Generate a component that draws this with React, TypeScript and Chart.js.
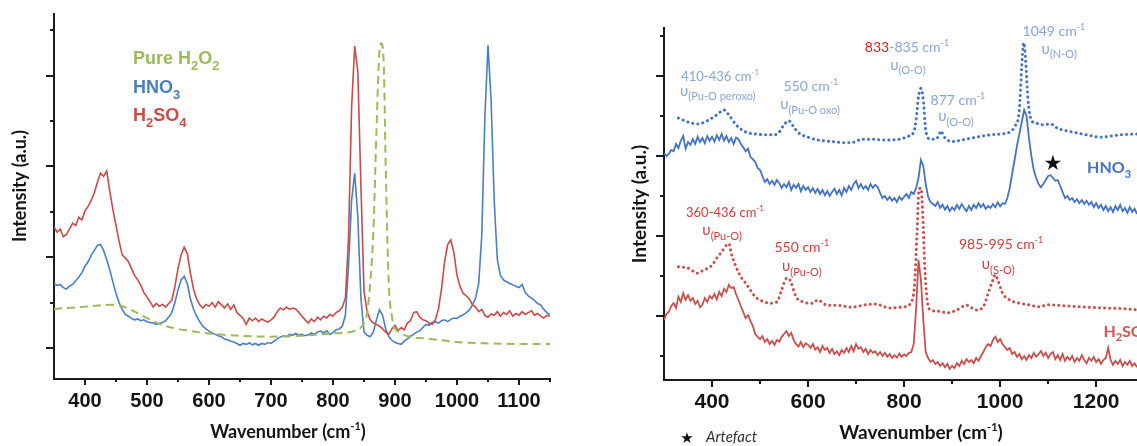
import React, { useEffect, useRef } from 'react';
import { Chart, registerables } from 'chart.js';
Chart.register(...registerables);

// ---------------- Left panel data ----------------
const LEFT_START = 350;
const LEFT_STEP = 5;
// H2SO4 (red), one row = 50 cm-1, starting at 350
const leftH2SO4 = [
  2.67, 2.55, 2.62, 2.45, 2.5, 2.62, 2.75, 2.7, 2.88, 2.82,
  3.02, 3.12, 3.25, 3.42, 3.65, 3.85, 3.78, 3.9, 3.45, 3.05,
  2.7, 2.35, 2.05, 1.98, 1.9, 1.75, 1.6, 1.5, 1.38, 1.22,
  1.12, 1.02, 0.9, 0.98, 0.92, 0.96, 0.9, 0.98, 1.05, 1.35,
  1.75, 2.05, 2.22, 2.08, 1.65, 1.3, 1.08, 0.95, 0.88, 0.96,
  0.92, 1.0, 0.9, 1.02, 0.95, 0.88, 0.97, 0.85, 0.95, 0.78,
  0.72, 0.65, 0.52, 0.66, 0.6, 0.66, 0.58, 0.64, 0.6, 0.57,
  0.62, 0.68, 0.8, 0.88, 0.84, 0.9, 0.85, 0.88, 0.86, 0.78,
  0.7, 0.62, 0.55, 0.64, 0.58, 0.68, 0.62, 0.7, 0.66, 0.74,
  0.7, 0.78, 0.82, 0.9, 1.1, 2.4, 5.3, 6.65, 6.1, 3.6,
  1.25, 0.8, 0.62, 0.55, 0.52, 0.48, 0.42, 0.35, 0.3, 0.42,
  0.5, 0.38, 0.45, 0.4, 0.55, 0.6, 0.78, 0.8, 0.68, 0.62,
  0.6, 0.55, 0.52, 0.62, 0.85, 1.3, 1.9, 2.28, 2.38, 2.1,
  1.6, 1.35, 1.2, 1.15, 1.08, 0.95, 0.9, 0.8, 0.85, 0.72,
  0.68, 0.75, 0.72, 0.8, 0.7, 0.78, 0.74, 0.82, 0.7, 0.76,
  0.72, 0.8, 0.74, 0.78, 0.82, 0.72, 0.76, 0.7, 0.66, 0.72,
  0.7,
];
// HNO3 (blue)
const leftHNO3 = [
  1.42, 1.38, 1.4, 1.33, 1.3, 1.36, 1.4, 1.48, 1.56, 1.66,
  1.8, 1.9, 2.04, 2.15, 2.26, 2.28, 2.15, 1.95, 1.72, 1.45,
  1.2, 1.0, 0.85, 0.74, 0.7, 0.65, 0.62, 0.64, 0.6, 0.62,
  0.58, 0.56, 0.55, 0.52, 0.54, 0.56, 0.6, 0.68, 0.78, 1.0,
  1.28, 1.5, 1.58, 1.42, 1.08, 0.86, 0.7, 0.58, 0.48, 0.42,
  0.37, 0.33, 0.3, 0.27, 0.25, 0.2, 0.18, 0.15, 0.13, 0.1,
  0.06, 0.1, 0.08, 0.11, 0.07, 0.1, 0.06, 0.1, 0.08, 0.12,
  0.1, 0.15, 0.2, 0.24, 0.27, 0.25, 0.3, 0.28, 0.32, 0.28,
  0.3, 0.27, 0.29, 0.33, 0.3, 0.35, 0.37, 0.33, 0.38, 0.3,
  0.34, 0.4, 0.42, 0.48, 0.72, 1.8, 3.25, 3.85, 2.9, 1.1,
  0.35, 0.28, 0.25, 0.35, 0.62, 0.84, 0.72, 0.42, 0.25, 0.17,
  0.12, 0.1, 0.08, 0.15, 0.2, 0.26, 0.3, 0.35, 0.38, 0.45,
  0.52, 0.5, 0.56, 0.58, 0.55, 0.6, 0.62, 0.58, 0.63, 0.66,
  0.65, 0.7, 0.73, 0.78, 0.84, 0.95, 1.1, 1.42, 2.5, 5.1,
  6.67, 5.45, 3.25, 1.95, 1.6, 1.5, 1.46, 1.42, 1.39, 1.36,
  1.33, 1.4, 1.22, 1.15, 1.1, 1.05, 0.98, 0.95, 0.85, 0.78,
  0.73,
];
// Pure H2O2 (green dashed)
const leftH2O2Wavenumber = [350, 400, 440, 460, 480, 500, 520, 550, 600, 650, 700, 750, 800, 840, 850, 855, 860, 865, 870, 875, 878, 882, 885, 890, 895, 900, 950, 1000, 1050, 1100, 1150];
const leftH2O2 = [0.86, 0.91, 0.95, 0.92, 0.8, 0.66, 0.53, 0.42, 0.32, 0.27, 0.25, 0.27, 0.32, 0.4, 0.55, 0.77, 1.42, 2.53, 4.73, 6.56, 6.71, 6.2, 4.0, 1.42, 0.7, 0.42, 0.21, 0.13, 0.1, 0.09, 0.09];
const leftXTicks = [400, 500, 600, 700, 800, 900, 1000, 1100];
const leftXMinor = [450, 550, 650, 750, 850, 950, 1050, 1150];
const leftYMajor = [0, 2, 4, 6];
const leftYMinor = [1, 3, 5, 7];

// ---------------- Right panel data ----------------
const RIGHT_START = 300;
const RIGHT_STEP = 5;
// HNO3 measured (solid blue), rows of 50 cm-1 from 300
const rightHNO3 = [
  5.07, 5.0, 5.05, 5.15, 5.12, 5.3, 5.2, 5.38, 5.5, 5.18,
  5.35, 5.28, 5.42, 5.3, 5.48, 5.35, 5.45, 5.32, 5.5, 5.38,
  5.48, 5.36, 5.52, 5.4, 5.55, 5.38, 5.5, 5.35, 5.45, 5.3,
  5.46, 5.42, 5.3, 5.22, 5.12, 5.18, 4.98, 4.92, 4.85, 4.7,
  4.65, 4.5, 4.35, 4.42, 4.3, 4.38, 4.28, 4.4, 4.32, 4.2,
  4.3, 4.22, 4.35, 4.15, 4.28, 4.2, 4.3, 4.12, 4.25, 4.15,
  4.22, 4.1, 4.2, 4.08, 4.18, 4.05, 4.15, 4.02, 4.12, 4.0,
  4.1, 4.18, 4.05, 4.15, 4.02, 4.2, 4.1, 4.25, 4.15, 4.3,
  4.38, 4.2, 4.3, 4.18, 4.25, 4.15, 4.3, 4.2, 4.28, 4.22,
  4.08, 3.95, 4.0, 3.9, 3.98, 3.88, 3.95, 3.85, 3.98, 3.9,
  3.98, 4.05, 3.95, 4.1, 4.05, 4.2, 4.45, 4.9, 4.75, 4.3,
  3.98, 3.85, 3.8, 3.75, 3.85, 3.7, 3.78, 3.66, 3.75, 3.62,
  3.72, 3.65, 3.78, 3.68, 3.8, 3.7, 3.62, 3.75, 3.65, 3.78,
  3.7, 3.82, 3.72, 3.8, 3.68, 3.75, 3.7, 3.8, 3.72, 3.84,
  3.74, 3.82, 3.8, 3.95, 4.2, 4.55, 4.9, 5.25, 5.55, 5.85,
  6.15, 6.0, 5.45, 5.0, 4.65, 4.45, 4.3, 4.22, 4.3, 4.4,
  4.5, 4.52, 4.45, 4.38, 4.4, 4.25, 4.1, 3.95, 4.0, 3.9,
  3.95, 3.85, 3.92, 3.82, 3.9, 3.8, 3.88, 3.78, 3.85, 3.72,
  3.82, 3.7, 3.78, 3.65, 3.75, 3.62, 3.72, 3.6, 3.75, 3.65,
  3.78, 3.62, 3.7, 3.58, 3.72, 3.6, 3.68, 3.55, 3.7, 3.6,
  3.65,
];
// H2SO4 measured (solid red)
const rightH2SO4 = [
  0.9, 1.05, 1.1, 1.25, 1.32, 1.2, 1.48, 1.35, 1.57, 1.4,
  1.52, 1.38, 1.45, 1.3, 1.38, 1.22, 1.28, 1.45, 1.35, 1.5,
  1.44, 1.55, 1.42, 1.6, 1.5, 1.68, 1.6, 1.78, 1.7, 1.72,
  1.55, 1.4, 1.25, 1.1, 0.95, 1.02, 0.88, 0.75, 0.55, 0.48,
  0.42, 0.5, 0.35, 0.42, 0.3, 0.38, 0.28, 0.4, 0.36, 0.48,
  0.55, 0.62, 0.5, 0.58, 0.4, 0.3, 0.24, 0.35, 0.22, 0.32,
  0.28, 0.2, 0.3, 0.16, 0.22, 0.1, 0.25, 0.15, 0.2, 0.08,
  0.18, 0.05, 0.12, 0.02, 0.15, 0.08, 0.2, 0.1, 0.25, 0.12,
  0.3, 0.18, 0.22, 0.1, 0.18, 0.05, 0.15, 0.08, 0.12, 0.02,
  0.1, 0.0, 0.08, -0.02, 0.05, -0.05, 0.02, -0.04, 0.06, -0.02,
  0.04, 0.0, 0.08, 0.1, 0.3, 1.2, 2.4, 1.9, 0.9, 0.1,
  -0.05, -0.15, -0.1, -0.2, -0.15, -0.25, -0.18, -0.28, -0.2, -0.32,
  -0.25, -0.3, -0.18, -0.25, -0.12, -0.2, -0.08, -0.15, -0.1, -0.18,
  -0.05, -0.12, 0.0, 0.1, 0.22, 0.3, 0.25, 0.4, 0.48, 0.35,
  0.42, 0.3, 0.22, 0.15, 0.2, 0.05, 0.1, -0.02, 0.05, -0.08,
  0.0, -0.1, 0.02, -0.05, 0.08, -0.02, 0.05, 0.12, 0.0, 0.08,
  -0.05, 0.05, 0.1, -0.08, 0.02, -0.1, 0.05, -0.12, -0.02, -0.1,
  0.0, -0.15, -0.05, -0.12, 0.02, -0.1, -0.18, -0.05, -0.12, -0.02,
  -0.15, -0.08, -0.2, -0.1, -0.05, 0.2, -0.1, -0.22, -0.12, -0.2,
  -0.1, -0.25, -0.15, -0.22, -0.12, -0.25, -0.18, -0.28, -0.2, -0.25,
  -0.2,
];
// reference spectra (dotted)
const rightHNO3RefWavenumber = [330, 350, 370, 390, 410, 425, 435, 450, 470, 490, 510, 530, 540, 550, 560, 570, 580, 600, 620, 650, 680, 700, 710, 730, 760, 790, 810, 820, 825, 830, 835, 840, 845, 855, 865, 872, 877, 882, 890, 900, 920, 950, 980, 1000, 1020, 1030, 1040, 1045, 1049, 1053, 1058, 1065, 1075, 1090, 1105, 1120, 1150, 1180, 1210, 1250, 1290];
const rightHNO3Ref = [5.95, 5.85, 5.8, 5.88, 6.03, 6.15, 6.03, 5.78, 5.6, 5.55, 5.53, 5.53, 5.6, 5.78, 5.88, 5.73, 5.58, 5.47, 5.4, 5.36, 5.33, 5.36, 5.42, 5.42, 5.4, 5.42, 5.5, 5.6, 5.9, 6.48, 6.69, 6.4, 5.65, 5.42, 5.42, 5.5, 5.63, 5.5, 5.4, 5.36, 5.4, 5.47, 5.53, 5.55, 5.6, 5.73, 6.15, 7.23, 7.83, 7.4, 6.4, 5.9, 5.82, 5.78, 5.8, 5.69, 5.6, 5.53, 5.47, 5.53, 5.55];
const rightH2SO4RefWavenumber = [330, 350, 370, 380, 400, 410, 420, 430, 435, 440, 450, 460, 470, 480, 490, 500, 520, 535, 545, 555, 560, 565, 575, 590, 610, 620, 640, 660, 690, 720, 740, 770, 800, 815, 822, 827, 831, 835, 839, 843, 848, 855, 870, 890, 910, 930, 950, 965, 975, 985, 990, 995, 1005, 1020, 1040, 1060, 1080, 1100, 1140, 1180, 1220, 1260, 1290];
const rightH2SO4Ref = [2.23, 2.2, 2.07, 2.13, 2.27, 2.45, 2.6, 2.77, 2.81, 2.57, 2.23, 1.98, 1.82, 1.65, 1.48, 1.4, 1.32, 1.35, 1.65, 1.94, 1.94, 1.82, 1.48, 1.35, 1.32, 1.4, 1.27, 1.27, 1.22, 1.28, 1.3, 1.2, 1.23, 1.35, 1.82, 3.07, 4.15, 4.2, 3.48, 2.23, 1.4, 1.15, 1.12, 1.08, 1.15, 1.27, 1.15, 1.23, 1.57, 1.9, 2.03, 1.9, 1.57, 1.4, 1.32, 1.28, 1.23, 1.28, 1.25, 1.22, 1.2, 1.18, 1.15];
const rightXTicks = [400, 600, 800, 1000, 1200];
const rightXMinor = [500, 700, 900, 1100];
const rightYMajor = [1, 3, 5, 7];
const rightYMinor = [0, 2, 4, 6, 8];

// ---------------- styles ----------------
const AXIS = '#1c1c1c';
const FONT_TICK = '"Liberation Sans", Arial, sans-serif';
const FONT_TEXT = 'Lato, "Noto Sans", "DejaVu Sans", sans-serif';
const GREEN = '#9bbb59';
const L_BLUE = '#4a7fc6';
const L_RED = '#cc4a47';
const R_BLUE = '#4472c4';
const R_RED = '#c9504c';
const ANN_BLUE = '#88a5d9';
const ANN_RED = '#d23c3c';
const ANN_RED2 = '#e3201c';

type Seg = { t: string; s: number; c: string; w?: string; i?: boolean; dy?: number; f?: string };
type TextItem = { x: number; y: number; data?: boolean; segs: Seg[]; align?: string; rot?: number };

function segFont(g: Seg) {
  return `${g.i ? 'italic ' : ''}${g.w || 'normal'} ${g.s}px ${g.f || FONT_TEXT}`;
}

function drawRich(ctx: CanvasRenderingContext2D, x: number, y: number, segs: Seg[], align = 'center', rot = 0) {
  ctx.save();
  ctx.translate(x, y);
  if (rot) ctx.rotate(rot);
  ctx.textBaseline = 'alphabetic';
  ctx.textAlign = 'left';
  const ws = segs.map((g) => {
    ctx.font = segFont(g);
    return ctx.measureText(g.t).width;
  });
  const total = ws.reduce((a, b) => a + b, 0);
  let cx = align === 'center' ? -total / 2 : align === 'right' ? -total : 0;
  const base = segs[0].s * 0.36;
  segs.forEach((g, k) => {
    ctx.font = segFont(g);
    ctx.fillStyle = g.c;
    ctx.fillText(g.t, cx, base + (g.dy || 0));
    cx += ws[k];
  });
  ctx.restore();
}

const wn = (num: string, c: string, s: number): Seg[] => [
  { t: num + ' cm', s, c },
  { t: '-1', s: Math.round(s * 0.62), c, dy: -s * 0.45 },
];
const nu = (sub: string, c: string, s: number): Seg[] => [
  { t: 'υ', s: s + 1, c },
  { t: sub, s: Math.round(s * 0.8), c, dy: s * 0.3 },
];
const formula = (parts: [string, boolean][], c: string, s: number, f: string, w = 'bold'): Seg[] =>
  parts.map(([t, sub]) => (sub ? { t, s: Math.round(s * 0.7), c, w, f, dy: s * 0.3 } : { t, s, c, w, f }));

type Deco = {
  xMajor: number[]; xMinor: number[]; yMajor: number[]; yMinor: number[];
  xMajorLen: number; xMinorLen: number; yMajorLen: number; yMinorLen: number;
  texts: TextItem[];
};

function decor(d: Deco) {
  return {
    id: 'decor',
    afterDraw(chart: any) {
      const ctx: CanvasRenderingContext2D = chart.ctx;
      const xs = chart.scales.x;
      const ys = chart.scales.y;
      const area = chart.chartArea;
      ctx.save();
      ctx.strokeStyle = AXIS;
      ctx.lineWidth = 2;
      ctx.beginPath();
      const xt = (vals: number[], len: number) =>
        vals.forEach((v) => {
          const p = Math.round(xs.getPixelForValue(v));
          ctx.moveTo(p, area.bottom);
          ctx.lineTo(p, area.bottom + len);
        });
      const yt = (vals: number[], len: number) =>
        vals.forEach((v) => {
          const p = Math.round(ys.getPixelForValue(v));
          ctx.moveTo(area.left, p);
          ctx.lineTo(area.left - len, p);
        });
      xt(d.xMajor, d.xMajorLen);
      xt(d.xMinor, d.xMinorLen);
      yt(d.yMajor, d.yMajorLen);
      yt(d.yMinor, d.yMinorLen);
      ctx.stroke();
      ctx.restore();
      d.texts.forEach((t) => {
        const px = t.data ? xs.getPixelForValue(t.x) : t.x;
        const py = t.data ? ys.getPixelForValue(t.y) : t.y;
        drawRich(ctx, px, py, t.segs, t.align || 'center', t.rot || 0);
      });
    },
  };
}

function series(xs: number[], ys: number[]) {
  const n = Math.min(xs.length, ys.length);
  const out: { x: number; y: number }[] = [];
  for (let i = 0; i < n; i++) out.push({ x: xs[i], y: ys[i] });
  return out;
}

function makeConfig(p: {
  datasets: any[]; xMin: number; xMax: number; yMin: number; yMax: number; xTicks: number[];
  left: number; right: number; top: number; bottom: number; tickSize: number; deco: Deco;
}) {
  return {
    type: 'line',
    data: { datasets: p.datasets },
    options: {
      responsive: false,
      maintainAspectRatio: false,
      animation: false,
      events: [],
      layout: { padding: { left: 0, right: p.right, top: p.top, bottom: 0 } },
      plugins: { legend: { display: false }, tooltip: { enabled: false } },
      scales: {
        x: {
          type: 'linear',
          min: p.xMin,
          max: p.xMax,
          afterFit: (s: any) => { s.height = p.bottom; },
          afterBuildTicks: (s: any) => { s.ticks = p.xTicks.map((v) => ({ value: v })); },
          grid: { display: false, drawTicks: false },
          border: { display: true, color: AXIS, width: 2 },
          ticks: {
            font: { family: FONT_TICK, size: p.tickSize, weight: 'bold' },
            color: '#141414',
            padding: 10,
            maxRotation: 0,
            autoSkip: false,
            callback: (v: any) => String(v),
          },
        },
        y: {
          type: 'linear',
          min: p.yMin,
          max: p.yMax,
          afterFit: (s: any) => { s.width = p.left; },
          grid: { display: false, drawTicks: false },
          border: { display: true, color: AXIS, width: 2 },
          ticks: { display: false },
        },
      },
    },
    plugins: [decor(p.deco)],
  } as any;
}

function leftConfig() {
  const wnGrid = leftH2SO4.map((_, i) => LEFT_START + i * LEFT_STEP);
  const texts: TextItem[] = [
    { x: 133, y: 58, align: 'left', segs: formula([['Pure H', false], ['2', true], ['O', false], ['2', true]], GREEN, 18, FONT_TICK) },
    { x: 133, y: 87, align: 'left', segs: formula([['HNO', false], ['3', true]], L_BLUE, 18, FONT_TICK) },
    { x: 133, y: 115, align: 'left', segs: formula([['H', false], ['2', true], ['SO', false], ['4', true]], L_RED, 18, FONT_TICK) },
    { x: 20, y: 186, rot: -Math.PI / 2, segs: [{ t: 'Intensity (a.u.)', s: 18, w: 'bold', c: '#141414' }] },
    {
      x: 288, y: 432,
      segs: [
        { t: 'Wavenumber (cm', s: 18, w: 'bold', c: '#141414' },
        { t: '-1', s: 11, w: 'bold', c: '#141414', dy: -8 },
        { t: ')', s: 18, w: 'bold', c: '#141414' },
      ],
    },
  ];
  return makeConfig({
    datasets: [
      { data: series(leftH2O2Wavenumber, leftH2O2), borderColor: GREEN, borderWidth: 2, borderDash: [8, 5], pointRadius: 0, cubicInterpolationMode: 'monotone' },
      { data: series(wnGrid, leftH2SO4), borderColor: L_RED, borderWidth: 1.6, pointRadius: 0, tension: 0 },
      { data: series(wnGrid, leftHNO3), borderColor: L_BLUE, borderWidth: 1.6, pointRadius: 0, tension: 0 },
    ],
    xMin: 350, xMax: 1150, yMin: -0.683, yMax: 7.357, xTicks: leftXTicks,
    left: 54, right: 20, top: 14, bottom: 67, tickSize: 20,
    deco: {
      xMajor: leftXTicks, xMinor: leftXMinor, yMajor: leftYMajor, yMinor: leftYMinor,
      xMajorLen: 6, xMinorLen: 3, yMajorLen: 8, yMinorLen: 4, texts,
    },
  });
}

function rightConfig() {
  const wnGrid = rightHNO3.map((_, i) => RIGHT_START + i * RIGHT_STEP);
  const texts: TextItem[] = [
    { x: 417, y: 7.0, data: true, segs: wn('410-436', ANN_BLUE, 13) },
    { x: 412, y: 6.63, data: true, segs: nu('(Pu-O peroxo)', ANN_BLUE, 14) },
    { x: 606, y: 6.75, data: true, segs: wn('550', ANN_BLUE, 14) },
    { x: 604, y: 6.3, data: true, segs: nu('(Pu-O oxo)', ANN_BLUE, 14) },
    { x: 806, y: 7.73, data: true, segs: [{ t: '833', s: 14, c: ANN_RED2 }, ...wn('-835', ANN_BLUE, 14)] },
    { x: 808, y: 7.28, data: true, segs: nu('(O-O)', ANN_BLUE, 14) },
    { x: 912, y: 6.4, data: true, segs: wn('877', ANN_BLUE, 14) },
    { x: 908, y: 6.0, data: true, segs: nu('(O-O)', ANN_BLUE, 14) },
    { x: 1112, y: 8.13, data: true, segs: wn('1049', ANN_BLUE, 14) },
    { x: 1123, y: 7.68, data: true, segs: nu('(N-O)', ANN_BLUE, 14) },
    { x: 1110, y: 4.85, data: true, segs: [{ t: '★', s: 21, c: '#111', f: '"DejaVu Sans", sans-serif' }] },
    { x: 1181, y: 4.72, data: true, align: 'left', segs: formula([['HNO', false], ['3', true]], R_BLUE, 16, FONT_TEXT) },
    { x: 427, y: 3.6, data: true, segs: wn('360-436', ANN_RED, 13) },
    { x: 421, y: 3.15, data: true, segs: nu('(Pu-O)', ANN_RED, 14) },
    { x: 587, y: 2.73, data: true, segs: wn('550', ANN_RED, 14) },
    { x: 587, y: 2.25, data: true, segs: nu('(Pu-O)', ANN_RED, 14) },
    { x: 1002, y: 2.8, data: true, segs: wn('985-995', ANN_RED, 14) },
    { x: 996, y: 2.3, data: true, segs: nu('(S-O)', ANN_RED, 14) },
    { x: 1215, y: 0.63, data: true, align: 'left', segs: formula([['H', false], ['2', true], ['SO', false], ['4', true]], '#d45550', 16, FONT_TEXT) },
    { x: 39, y: 204, rot: -Math.PI / 2, segs: [{ t: 'Intensity (a.u.)', s: 19, w: 'bold', c: '#141414' }] },
    {
      x: 321, y: 432,
      segs: [
        { t: 'Wavenumber (cm', s: 19, w: 'bold', c: '#141414' },
        { t: '-1', s: 11, w: 'bold', c: '#141414', dy: -8 },
        { t: ')', s: 19, w: 'bold', c: '#141414' },
      ],
    },
    { x: 87, y: 438, segs: [{ t: '★', s: 15, c: '#111', f: '"DejaVu Sans", sans-serif' }] },
    { x: 106, y: 437, align: 'left', segs: [{ t: 'Artefact', s: 15, i: true, c: '#333' }] },
  ];
  return makeConfig({
    datasets: [
      { data: series(rightHNO3RefWavenumber, rightHNO3Ref), borderColor: R_BLUE, borderWidth: 3, borderDash: [0.1, 5], borderCapStyle: 'round', pointRadius: 0, cubicInterpolationMode: 'monotone' },
      { data: series(rightH2SO4RefWavenumber, rightH2SO4Ref), borderColor: R_RED, borderWidth: 3, borderDash: [0.1, 5], borderCapStyle: 'round', pointRadius: 0, cubicInterpolationMode: 'monotone' },
      { data: series(wnGrid, rightHNO3), borderColor: R_BLUE, borderWidth: 1.8, pointRadius: 0, tension: 0 },
      { data: series(wnGrid, rightH2SO4), borderColor: R_RED, borderWidth: 1.8, pointRadius: 0, tension: 0 },
    ],
    xMin: 300, xMax: 1285, yMin: -0.6, yMax: 8.2, xTicks: rightXTicks,
    left: 64, right: 0, top: 28, bottom: 66, tickSize: 21,
    deco: {
      xMajor: rightXTicks, xMinor: rightXMinor, yMajor: rightYMajor, yMinor: rightYMinor,
      xMajorLen: 7, xMinorLen: 4, yMajorLen: 8, yMinorLen: 4, texts,
    },
  });
}

function Panel(props: { left: number; width: number; height: number; build: () => any }) {
  const ref = useRef<HTMLCanvasElement>(null);
  useEffect(() => {
    const chart = new Chart(ref.current as HTMLCanvasElement, props.build());
    return () => chart.destroy();
  }, []);
  return (
    <canvas
      ref={ref}
      width={props.width}
      height={props.height}
      style={{ position: 'absolute', left: props.left, top: 0, width: props.width, height: props.height }}
    />
  );
}

export default function App() {
  return (
    <div style={{ position: 'absolute', left: 0, top: 0, width: 1137, height: 446, overflow: 'hidden', background: '#fff' }}>
      <Panel left={0} width={570} height={446} build={leftConfig} />
      <Panel left={600} width={537} height={446} build={rightConfig} />
    </div>
  );
}
